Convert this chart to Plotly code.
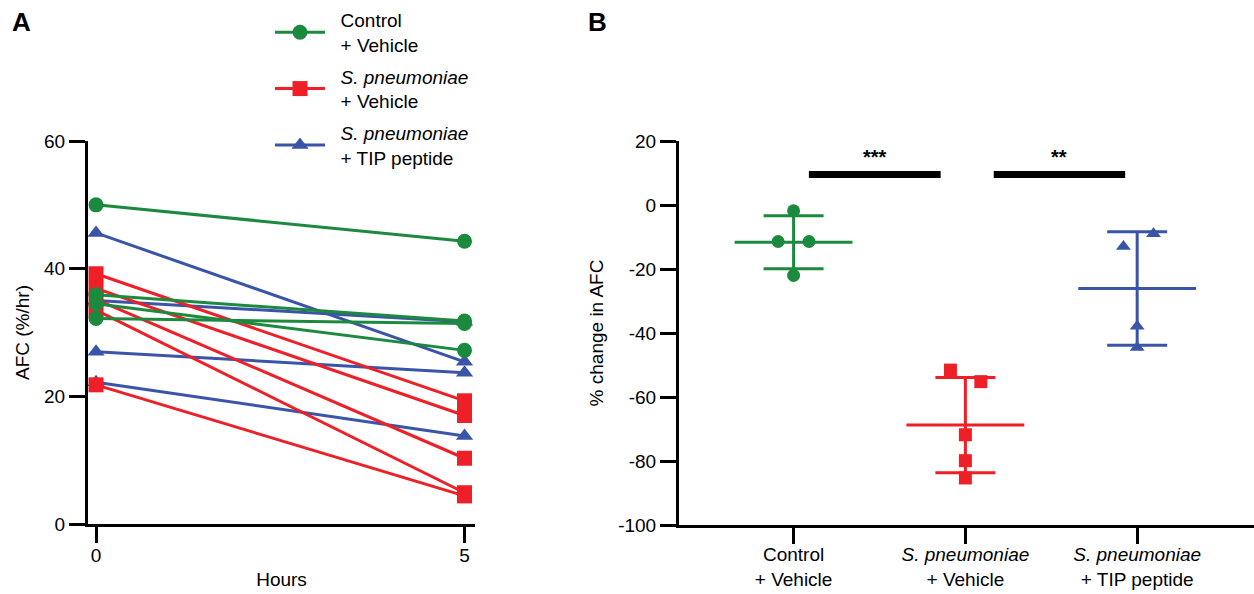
import plotly.graph_objects as go
import numpy as np

# ---------------- data ----------------
# Panel A: AFC (%/hr) at 0 and 5 hours, one value per animal
hours = [0, 5]
ctrl_t0 = [50.0, 35.9, 34.5, 32.2]
ctrl_t5 = [44.3, 31.8, 27.2, 31.4]
spn_t0 = [39.2, 36.9, 35.2, 33.5, 21.8]
spn_t5 = [19.3, 17.0, 10.3, 4.9, 4.4]
tip_t0 = [45.6, 35.0, 27.0, 22.2]
tip_t5 = [25.4, 31.7, 23.7, 13.8]
a_yticks = [0, 20, 40, 60]

# Panel B: % change in AFC
group_labels = ["Control<br>+ Vehicle",
                "<i>S. pneumoniae</i><br>+ Vehicle",
                "<i>S. pneumoniae</i><br>+ TIP peptide"]
legend_labels = group_labels
ctrl_change = [-1.8, -11.4, -11.4, -22.0]
spn_change = [-51.6, -55.2, -71.8, -79.9, -85.3]
tip_change = [-13.0, -9.0, -37.9, -44.5]
b_yticks = [-100, -80, -60, -40, -20, 0, 20]
b_yticklabels = ["-100", "-80", "-60", "-40", "-20", "0", "20"]

# horizontal jitter of points (layout only)
ctrl_jitter = [0.0, -0.09, 0.09, 0.0]
spn_jitter = [-0.087, 0.09, 0.0, 0.0, 0.0]
tip_jitter = [-0.08, 0.095, 0.0, 0.0]

# significance bars: (x0, x1, y, label)
sig_bars = [(0.089, 0.856, 9.5, "***"), (1.165, 1.93, 9.5, "**")]

# ---------------- styles ----------------
GREEN = "#1c8a3e"
RED = "#ee1f26"
BLUE = "#3a55a8"
FONT = "Liberation Sans, Arial, Helvetica, sans-serif"
FS = 19

fig = go.Figure()


def pair_xy(t0, t5):
    xs, ys = [], []
    for a, b in zip(t0, t5):
        xs += [hours[0], hours[1], None]
        ys += [a, b, None]
    return xs, ys


def pad(label):
    return "<br>".join("&nbsp;&nbsp;" + part for part in label.split("<br>"))


panelA = [
    ("blue", tip_t0, tip_t5, BLUE, "triangle-up", legend_labels[2], 3),
    ("red", spn_t0, spn_t5, RED, "square", legend_labels[1], 2),
    ("green", ctrl_t0, ctrl_t5, GREEN, "circle", legend_labels[0], 1),
]
for key, t0, t5, col, sym, name, rank in panelA:
    xs, ys = pair_xy(t0, t5)
    fig.add_trace(go.Scatter(
        x=xs, y=ys, mode="lines+markers", name=pad(name), legendrank=rank,
        legendgroup=key,
        line=dict(color=col, width=3),
        marker=dict(symbol=sym, size=15, color=col, line=dict(width=0)),
        xaxis="x", yaxis="y", cliponaxis=False, connectgaps=False,
    ))

# Panel B
panelB = [
    (0, ctrl_change, ctrl_jitter, GREEN, "circle"),
    (1, spn_change, spn_jitter, RED, "square"),
    (2, tip_change, tip_jitter, BLUE, "triangle-up"),
]
for idx, vals, jit, col, sym in panelB:
    arr = np.array(vals)
    mean = float(arr.mean())
    sd = float(arr.std(ddof=1))
    fig.add_trace(go.Scatter(
        x=[idx - 0.343, idx + 0.343], y=[mean, mean], mode="lines",
        line=dict(color=col, width=3), showlegend=False,
        xaxis="x2", yaxis="y2", hoverinfo="skip"))
    fig.add_trace(go.Scatter(
        x=[idx], y=[mean], mode="markers",
        marker=dict(size=1, color=col),
        error_y=dict(type="data", array=[sd], visible=True, color=col,
                     thickness=3, width=30),
        showlegend=False, xaxis="x2", yaxis="y2"))
    fig.add_trace(go.Scatter(
        x=[idx + j for j in jit], y=vals, mode="markers",
        marker=dict(symbol=sym, size=13, color=col, line=dict(width=0)),
        showlegend=False, xaxis="x2", yaxis="y2"))

for x0, x1, yv, lab in sig_bars:
    fig.add_trace(go.Scatter(
        x=[x0, x1], y=[yv, yv], mode="lines",
        line=dict(color="black", width=7), showlegend=False,
        xaxis="x2", yaxis="y2", hoverinfo="skip"))
    fig.add_annotation(x=(x0 + x1) / 2, y=yv + 5.6, xref="x2", yref="y2",
                       text="<b>" + lab + "</b>", showarrow=False,
                       font=dict(size=20, color="black", family=FONT))

W, H = 1254, 594


def px_x(p):
    return p / W


def px_y(p):
    return 1 - p / H


axis_common = dict(
    showline=True, linecolor="black", linewidth=3, ticks="outside",
    ticklen=16, tickwidth=3, tickcolor="black", showgrid=False,
    zeroline=False, tickfont=dict(size=FS, color="black", family=FONT),
    mirror=False, automargin=False,
)

fig.update_layout(
    width=W, height=H, margin=dict(l=0, r=0, t=0, b=0, autoexpand=False),
    paper_bgcolor="white", plot_bgcolor="white",
    font=dict(family=FONT, size=FS, color="black"),
    xaxis=dict(domain=[px_x(88), px_x(475)], range=[-0.109, 5.142],
               tickvals=hours, anchor="y", ticklabelstandoff=-4,
               title=dict(text="Hours", font=dict(size=FS), standoff=8),
               **axis_common),
    yaxis=dict(domain=[px_y(524), px_y(141)], range=[0, 60],
               tickvals=a_yticks, anchor="x",
               title=dict(text="AFC (%/hr)", font=dict(size=FS), standoff=10),
               **axis_common),
    xaxis2=dict(domain=[px_x(679), 1.0], range=[-0.667, 2.68],
                tickvals=[0, 1, 2], ticktext=group_labels, anchor="y2",
                ticklabelstandoff=-6,
                **axis_common),
    yaxis2=dict(domain=[px_y(525), px_y(141)], range=[-100, 20],
                tickvals=b_yticks, ticktext=b_yticklabels, anchor="x2",
                title=dict(text="% change in AFC", font=dict(size=FS), standoff=10),
                **axis_common),
    legend=dict(x=px_x(270), y=px_y(1), xanchor="left", yanchor="top",
                font=dict(size=FS, family=FONT, color="black"),
                bgcolor="rgba(0,0,0,0)", tracegroupgap=4, itemwidth=50,
                traceorder="grouped"),
    showlegend=True,
)

fig.add_annotation(x=px_x(21), y=px_y(22), xref="paper", yref="paper",
                   text="<b>A</b>", showarrow=False, xanchor="center",
                   yanchor="middle",
                   font=dict(size=26, family=FONT, color="black"))
fig.add_annotation(x=px_x(597), y=px_y(22), xref="paper", yref="paper",
                   text="<b>B</b>", showarrow=False, xanchor="center",
                   yanchor="middle",
                   font=dict(size=26, family=FONT, color="black"))

fig.write_html("out.html", config={"displayModeBar": False},
               post_script="document.body.style.margin='0px';document.body.style.overflow='hidden';")
